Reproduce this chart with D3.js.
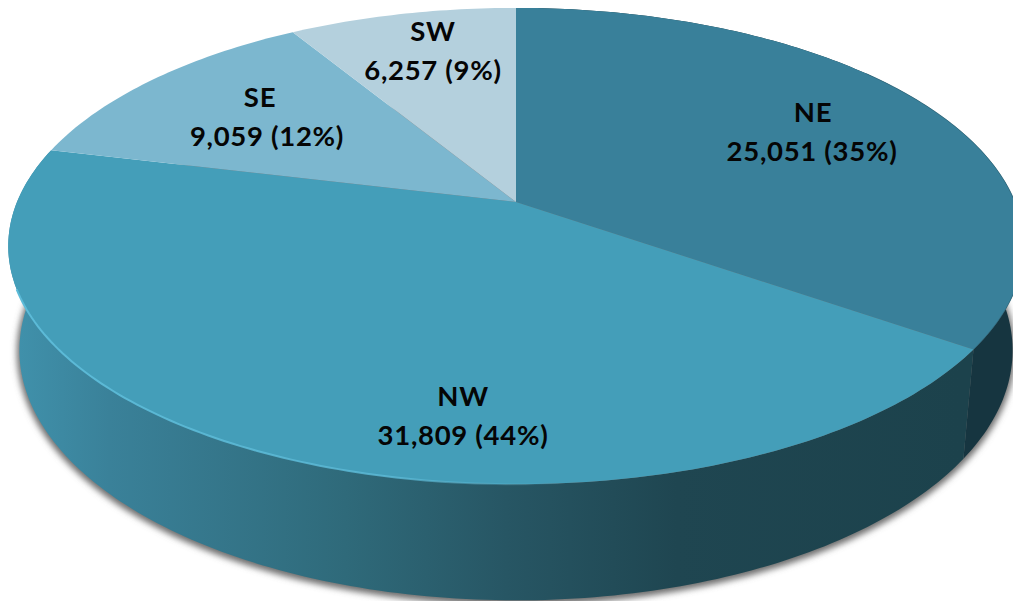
<!DOCTYPE html>
<html>
<head>
<meta charset="utf-8">
<script src="https://cdn.jsdelivr.net/npm/d3@7"></script>
<style>
  html, body { margin: 0; padding: 0; background: #fff; overflow: hidden; }
  svg { display: block; }
  text { font-family: Lato, "Open Sans", sans-serif; font-weight: 700; fill: #050505; }
</style>
</head>
<body>
<div id="chart"></div>
<script>
const regions = ["NE", "NW", "SE", "SW"];
const counts = [25051, 31809, 9059, 6257];
const percents = [35, 44, 12, 9]; // as printed on the chart, not recomputed

const topColors = ["#39809a", "#449eb9", "#7cb7cf", "#b4d0dd"];
const width = 1013;
const height = 601;

// Label centres, one per region (SE's name sits left of its value line)
const nameX = [813, 463, 260, 433];
const valueX = [812, 463, 267, 433];
const labelY = [133, 417, 118, 52];

const svg = d3.select("#chart").append("svg")
  .attr("width", width)
  .attr("height", height);

const defs = svg.append("defs");

// Wall shading runs left to right across the front
const wallGrad = defs.append("linearGradient")
  .attr("id", "wall-nw")
  .attr("gradientUnits", "userSpaceOnUse")
  .attr("x1", 15).attr("x2", 960).attr("y1", 0).attr("y2", 0);
[[0, "#4091ab"], [0.1, "#3a8199"], [0.35, "#2f6a7a"], [0.52, "#275664"], [0.7, "#1f4651"], [1, "#1c424c"]]
  .forEach(([o, c]) => wallGrad.append("stop").attr("offset", o).attr("stop-color", c));

const rimGrad = defs.append("linearGradient")
  .attr("id", "rim-nw")
  .attr("gradientUnits", "userSpaceOnUse")
  .attr("x1", 10).attr("x2", 560).attr("y1", 0).attr("y2", 0);
[[0, "#5cbbd8", 1], [0.7, "#5cbbd8", 0.8], [1, "#5cbbd8", 0]]
  .forEach(([o, c, a]) => rimGrad.append("stop").attr("offset", o).attr("stop-color", c).attr("stop-opacity", a));

defs.append("filter").attr("id", "soft")
  .attr("x", "-5%").attr("y", "-5%").attr("width", "110%").attr("height", "110%")
  .append("feGaussianBlur").attr("stdDeviation", 3);

// Perspective projection of the disc: theta is clockwise from the top, as in d3.pie
const cx = 516;
const cy = 202;
const persp = 0.185;

function project(theta, depth) {
  const sx = depth ? 0.978 : 1;
  const sy = depth ? 1.05 : 1;
  const yOff = depth ? 102 : 0;
  const w = 1 + persp * Math.cos(theta);
  return [
    cx + 499 * sx * Math.sin(theta) / w,
    cy + yOff - 230 * sy * Math.cos(theta) / w,
  ];
}

const line = d3.line();

function rim(a0, a1, depth) {
  const n = Math.max(2, Math.ceil((a1 - a0) * 60));
  return d3.range(n + 1).map((i) => project(a0 + (a1 - a0) * i / n, depth));
}

const slices = d3.pie().sort(null).startAngle(0).endAngle(2 * Math.PI)(counts);

// Soft shadow under the body
svg.append("path")
  .attr("d", line(rim(0, 2 * Math.PI, true)) + "Z")
  .attr("transform", "translate(0,2)")
  .attr("fill", "#6e6e6e")
  .attr("stroke", "#6e6e6e")
  .attr("stroke-width", 5)
  .attr("filter", "url(#soft)");

// Outer walls, only the NW and NE ones are in view
const wallFill = ["#163540", "url(#wall-nw)", "none", "none"];
svg.append("g").selectAll("path")
  .data(slices)
  .join("path")
  .attr("d", (d) => line([...rim(d.startAngle, d.endAngle, false), ...rim(d.startAngle, d.endAngle, true).reverse()]) + "Z")
  .attr("fill", (d) => wallFill[d.index]);

// Top face
svg.append("g").selectAll("path")
  .data(slices)
  .join("path")
  .attr("d", (d) => line([[cx, cy], ...rim(d.startAngle, d.endAngle, false)]) + "Z")
  .attr("fill", (d) => topColors[d.index]);

// Bevel highlight along the front edge of NW
const nw = slices[1];
svg.append("path")
  .attr("d", line(rim(nw.startAngle, nw.endAngle - 0.6, false)))
  .attr("fill", "none")
  .attr("stroke", "url(#rim-nw)")
  .attr("stroke-width", 2);

// Darker bevel on the NE edge
const ne = slices[0];
svg.append("path")
  .attr("d", line(rim(ne.startAngle + 0.9, ne.endAngle, false)))
  .attr("fill", "none")
  .attr("stroke", "#2c6478")
  .attr("stroke-opacity", 0.6)
  .attr("stroke-width", 1);

const fmt = d3.format(",");
const labels = svg.append("g").selectAll("text")
  .data(slices)
  .join("text")
  .attr("text-anchor", "middle")
  .attr("font-size", 27.5)
  .attr("letter-spacing", 0.7);

labels.append("tspan")
  .attr("x", (d) => nameX[d.index])
  .attr("y", (d) => labelY[d.index] - 11)
  .text((d) => regions[d.index]);

labels.append("tspan")
  .attr("x", (d) => valueX[d.index])
  .attr("y", (d) => labelY[d.index] + 28)
  .text((d) => `${fmt(d.data)} (${percents[d.index]}%)`);
</script>
</body>
</html>
